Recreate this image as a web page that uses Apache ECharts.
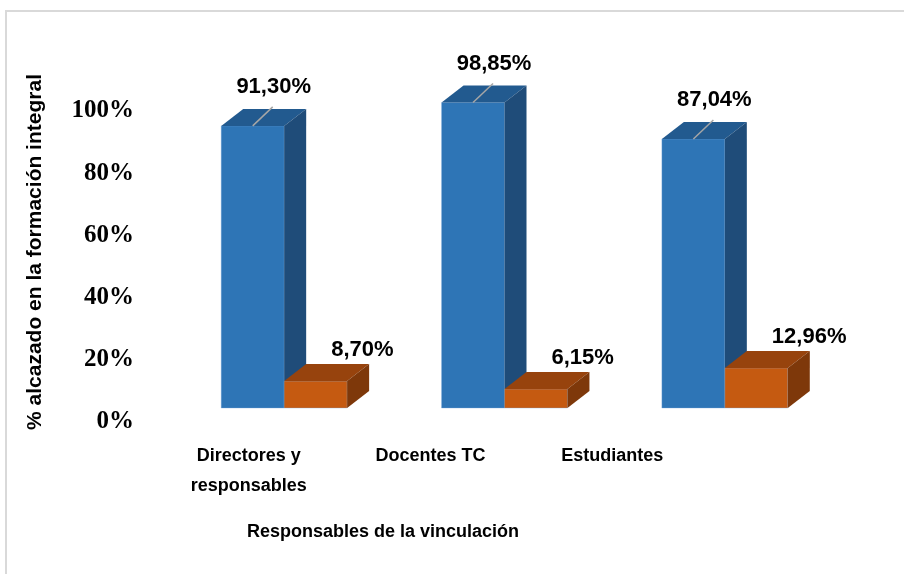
<!DOCTYPE html>
<html>
<head>
<meta charset="utf-8">
<script src="https://cdn.jsdelivr.net/npm/echarts@6/dist/echarts.min.js"></script>
<style>html,body{margin:0;padding:0;background:#fff}#c{width:904px;height:574px}</style>
</head>
<body>
<div id="c"></div>
<script>
const categories = ['Directores y\nresponsables', 'Docentes TC', 'Estudiantes'];
const alcanzado = [91.30, 98.85, 87.04];
const noAlcanzado = [8.70, 6.15, 12.96];
const yTickValues = [0, 20, 40, 60, 80, 100];
const yAxisTitle = '% alcazado en la formación integral';
const xAxisTitle = 'Responsables de la vinculación';

const SANS = "'Liberation Sans', Arial, sans-serif";
const SERIF = "'Liberation Serif', 'Times New Roman', serif";
const fmt = v => v.toFixed(2).replace('.', ',') + '%';

function makeRender(side, cFront, cTop, cSide) {
  return function (params, api) {
    const i = api.value(0), v = api.value(1);
    const base = api.coord([i, 0]);
    const top = api.coord([i, v]);
    const band = api.size([1, 0])[0];
    const w = band * 0.2857;
    const x0 = side === 0 ? base[0] - w : base[0];
    const x1 = x0 + w;
    const yb = base[1], yt = top[1];
    const dx = 22, dy = 17;
    const children = [
      { type: 'rect', shape: { x: x0, y: yt, width: w, height: yb - yt },
        style: { fill: cFront, stroke: 'rgba(120,170,220,0.35)', lineWidth: 1 } },
      { type: 'polygon', shape: { points: [[x0, yt], [x0 + dx, yt - dy], [x1 + dx, yt - dy], [x1, yt]] },
        style: { fill: cTop } },
      { type: 'polygon', shape: { points: [[x1, yt], [x1 + dx, yt - dy], [x1 + dx, yb - dy], [x1, yb]] },
        style: { fill: cSide } }
    ];
    const fc = (x0 + x1) / 2;
    if (side === 0) {
      children.push({ type: 'line', shape: { x1: fc, y1: yt, x2: fc + 20, y2: yt - 19 },
        style: { stroke: '#A6A6A6', lineWidth: 1.5 } });
      children.push({ type: 'text', style: { text: fmt(v), x: fc + 21, y: yt - 39,
        align: 'center', verticalAlign: 'middle', fill: '#000',
        fontFamily: SANS, fontWeight: 'bold', fontSize: 22 } });
    } else {
      children.push({ type: 'text', style: { text: fmt(v), x: x0 + 47, y: yt - 31,
        align: 'left', verticalAlign: 'middle', fill: '#000',
        fontFamily: SANS, fontWeight: 'bold', fontSize: 22 } });
    }
    return { type: 'group', children };
  };
}

const chart = echarts.init(document.getElementById('c'), null, { renderer: 'canvas' });
chart.setOption({
  animation: false,
  backgroundColor: '#fff',
  grid: [
    { left: 158, right: 201, top: 111, bottom: 152 },
    { left: 174, right: 69, top: 99, bottom: 166 }
  ],
  xAxis: [
    { gridIndex: 0, type: 'category', data: categories,
      axisLine: { show: false }, axisTick: { show: false },
      axisLabel: { margin: 19, color: '#000', fontFamily: SANS, fontWeight: 'bold',
        fontSize: 18, lineHeight: 30, align: 'center' } },
    { gridIndex: 1, type: 'category', data: categories, show: false }
  ],
  yAxis: [
    { gridIndex: 0, type: 'value', min: 0, max: 100, interval: 20,
      axisLine: { show: false }, axisTick: { show: false }, splitLine: { show: false },
      axisLabel: { margin: 24, color: '#000', fontFamily: SERIF, fontWeight: 'bold', fontSize: 25,
        formatter: v => yTickValues.includes(v) ? v + '%' : '' } },
    { gridIndex: 1, type: 'value', min: 0, max: 100, show: false }
  ],
  series: [
    { type: 'custom', xAxisIndex: 1, yAxisIndex: 1,
      renderItem: makeRender(0, '#2E75B6', '#225A8F', '#1F4C79'),
      data: alcanzado.map((v, i) => [i, v]) },
    { type: 'custom', xAxisIndex: 1, yAxisIndex: 1,
      renderItem: makeRender(1, '#C55A11', '#97430D', '#7E380A'),
      data: noAlcanzado.map((v, i) => [i, v]) }
  ],
  graphic: [
    { type: 'rect', shape: { x: 6, y: 11, width: 1000, height: 1000 }, silent: true,
      style: { fill: 'none', stroke: '#D9D9D9', lineWidth: 2 }, z: -1 },
    { type: 'text', x: 35, y: 252, rotation: Math.PI / 2,
      style: { text: yAxisTitle, align: 'center', verticalAlign: 'middle', fill: '#000',
        fontFamily: SANS, fontWeight: 'bold', fontSize: 21 } },
    { type: 'text', x: 383, y: 532,
      style: { text: xAxisTitle, align: 'center', verticalAlign: 'middle', fill: '#000',
        fontFamily: SANS, fontWeight: 'bold', fontSize: 18 } }
  ]
});
</script>
</body>
</html>
